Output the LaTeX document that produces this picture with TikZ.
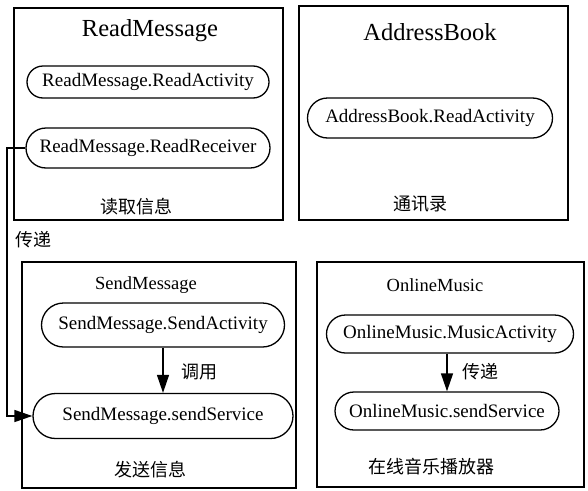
\documentclass[tikz,border=0pt]{standalone}
\usepackage{fontspec}
\setmainfont{Liberation Serif}
\newfontfamily\cjk{Noto Sans CJK SC}
\usetikzlibrary{arrows.meta}
\tikzset{
  frame/.style={draw, line width=1.2pt, inner sep=0pt},
  pill/.style n args={3}{draw, line width=1.3pt, inner sep=0pt,
    minimum width=#1, minimum height=#2, rounded corners=#3,
    font=\fontsize{19}{22}\selectfont},
  title/.style={font=\fontsize{24.5}{28}\selectfont, inner sep=0pt},
  lbl/.style={font=\fontsize{18.5}{22}\selectfont, inner sep=0pt},
  zh/.style={font=\cjk\fontsize{18}{21}\selectfont, inner sep=0pt},
  link/.style={line width=1.3pt, -{Triangle[length=18pt,width=12pt]}}
}
\begin{document}
\begin{tikzpicture}[x=1pt,y=-1pt]
\useasboundingbox (0,0) rectangle (588,490);
% frames
\node[frame, minimum width=269pt, minimum height=212pt] (rmbox) at (148.5,114) {};
\node[frame, minimum width=269pt, minimum height=214pt] (abbox) at (433.5,113) {};
\node[frame, minimum width=274pt, minimum height=226pt] (smbox) at (159,375) {};
\node[frame, minimum width=267pt, minimum height=225pt] (ombox) at (450.5,374.5) {};
% titles
\node[title] (rmt) at (150,31) {ReadMessage};
\node[title] (abt) at (430,32) {AddressBook};
\node[lbl] (smt) at (146,285) {SendMessage};
\node[lbl] (omt) at (435,285) {OnlineMusic};
% pills
\node[pill={242pt}{32pt}{16pt}] (ra) at (148,82) {ReadMessage.ReadActivity};
\node[pill={244pt}{40pt}{20pt}] (rr) at (148,148) {ReadMessage.ReadReceiver};
\node[pill={245pt}{40pt}{20pt}] (ab) at (430,118) {AddressBook.ReadActivity};
\node[pill={243pt}{44pt}{22pt}] (sa) at (163,325) {SendMessage.SendActivity};
\node[pill={260pt}{45pt}{22.5pt}] (ss) at (163,416) {SendMessage.sendService};
\node[pill={247pt}{38pt}{19pt}] (ma) at (450,334) {OnlineMusic.MusicActivity};
\node[pill={224pt}{38pt}{19pt}] (ms) at (447,411) {OnlineMusic.sendService};
% chinese labels
\node[zh] (rml) at (136,207) {读取信息};
\node[zh] (abl) at (420,204) {通讯录};
\node[zh] (cd) at (33,240) {传递};
\node[zh] (dy) at (199,372) {调用};
\node[zh] (sml) at (150,470) {发送信息};
\node[zh] (cd2) at (480,372) {传递};
\node[zh] (oml) at (431,467) {在线音乐播放器};
% connectors
\coordinate (c1) at (7,148);
\coordinate (c2) at (7,416);
\draw[link] (rr.west) -- (c1) -- (c2) -- (ss.west);
\draw[link] (sa.south) -- (ss.north);
\draw[link] (ma.south -| ms.north) -- (ms.north);
\end{tikzpicture}
\end{document}
